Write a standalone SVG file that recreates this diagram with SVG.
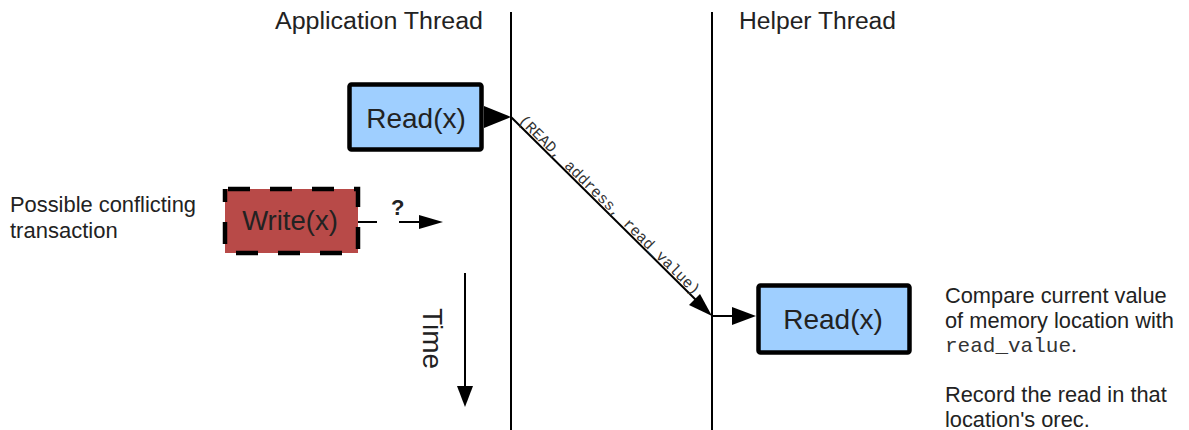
<svg xmlns="http://www.w3.org/2000/svg" width="1189" height="430" viewBox="0 0 1189 430">
<style>
.sans{font-family:"Liberation Sans",Arial,sans-serif;fill:#222}
.mono{font-family:"Liberation Mono","Courier New",monospace;fill:#333}
.ln{stroke:#000;stroke-width:2;fill:none}
.box{stroke:#000;stroke-width:4.5}
</style>
<rect width="1189" height="430" fill="#fff"/>
<g id="lanes">
<line class="ln" x1="511" y1="12" x2="511" y2="430"/>
<line class="ln" x1="712" y1="12" x2="712" y2="430"/>
<text class="sans" x="275" y="29" font-size="23" textLength="208" lengthAdjust="spacingAndGlyphs">Application Thread</text>
<text class="sans" x="739" y="29" font-size="23" textLength="157" lengthAdjust="spacingAndGlyphs">Helper Thread</text>
</g>
<g id="connectors">
<path d="M484,106 L511,117 L484,128 z" fill="#000"/>
<line class="ln" x1="511" y1="117" x2="696" y2="300"/>
<path d="M712,316 L689,305 L700,294 z" fill="#000"/>
<line class="ln" x1="712" y1="316" x2="735" y2="316"/>
<path d="M756,316 L732,307 L732,325 z" fill="#000"/>
<line class="ln" x1="357" y1="222" x2="377" y2="222"/>
<line class="ln" x1="399" y1="222" x2="421" y2="222"/>
<path d="M443,222 L419,215 L419,229 z" fill="#000"/>
<line class="ln" x1="465" y1="273" x2="465" y2="390"/>
<path d="M465,407 L457,386 L473,386 z" fill="#000"/>
<text class="mono" transform="translate(511,117) rotate(44.7)" x="8" y="-2" font-size="15.3">(READ, address, read_value)</text>
<text class="sans" x="391" y="215" font-size="22" font-weight="bold">?</text>
</g>
<g id="read-app">
<rect class="box" x="349.5" y="84.5" width="132" height="65" rx="2" fill="#9fcfff"/>
<text class="sans" x="416" y="128" font-size="28" text-anchor="middle">Read(x)</text>
</g>
<g id="write-conflict">
<rect x="225" y="189" width="133" height="64" fill="#b84a48" stroke="#000" stroke-width="4.5" stroke-dasharray="22 20" stroke-dashoffset="-3"/>
<text class="sans" x="290" y="230" font-size="27.5" text-anchor="middle">Write(x)</text>
</g>
<g id="read-helper">
<rect class="box" x="758.5" y="285.5" width="151" height="67" rx="2" fill="#9fcfff"/>
<text class="sans" x="833" y="329" font-size="28" text-anchor="middle">Read(x)</text>
</g>
<g id="labels">
<text class="sans" x="10" y="212" font-size="22" textLength="186" lengthAdjust="spacingAndGlyphs">Possible conflicting</text>
<text class="sans" x="10" y="238" font-size="22">transaction</text>
<text class="sans" transform="translate(423,308) rotate(90)" font-size="28">Time</text>
<text class="sans" x="945" y="303" font-size="21.8">Compare current value</text>
<text class="sans" x="945" y="328" font-size="21.8">of memory location with</text>
<text x="945" y="352" font-size="21"><tspan class="mono">read_value</tspan><tspan class="sans" font-size="21.8">.</tspan></text>
<text class="sans" x="945" y="402" font-size="21.8">Record the read in that</text>
<text class="sans" x="945" y="427" font-size="21.8">location's orec.</text>
</g>
</svg>
